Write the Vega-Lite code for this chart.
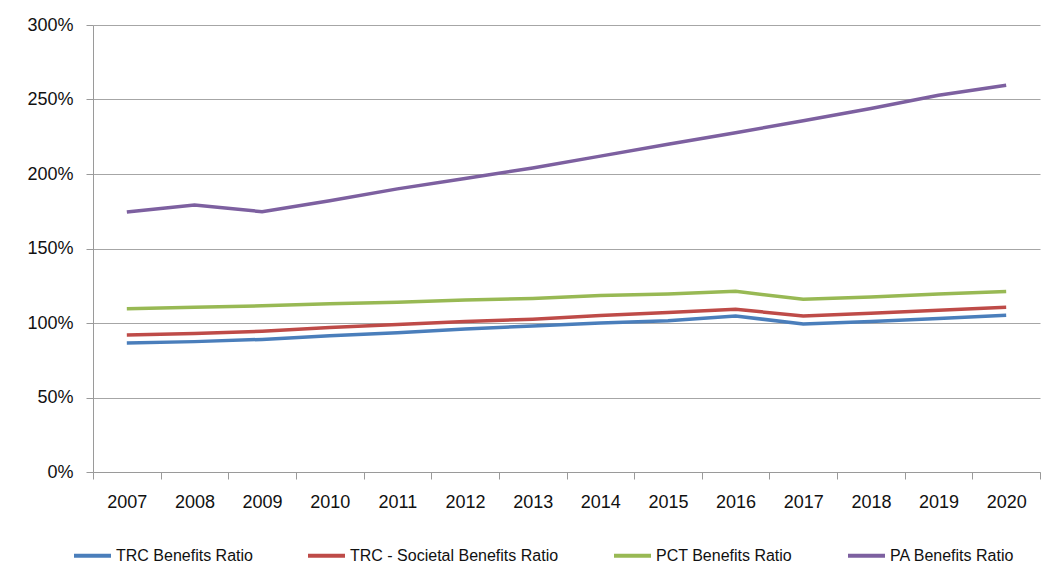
{
  "$schema": "https://vega.github.io/schema/vega-lite/v6.json",
  "width": 947,
  "height": 447,
  "autosize": {"type": "none"},
  "padding": {"left": 93, "top": 25, "right": 9, "bottom": 105},
  "background": "white",
  "config": {
    "view": {"stroke": null},
    "font": "Liberation Sans"
  },
  "data": {
    "values": [
      {"year": "2007", "series": "TRC Benefits Ratio", "value": 0.866},
      {"year": "2008", "series": "TRC Benefits Ratio", "value": 0.875},
      {"year": "2009", "series": "TRC Benefits Ratio", "value": 0.89},
      {"year": "2010", "series": "TRC Benefits Ratio", "value": 0.915},
      {"year": "2011", "series": "TRC Benefits Ratio", "value": 0.935},
      {"year": "2012", "series": "TRC Benefits Ratio", "value": 0.96},
      {"year": "2013", "series": "TRC Benefits Ratio", "value": 0.98},
      {"year": "2014", "series": "TRC Benefits Ratio", "value": 1.0},
      {"year": "2015", "series": "TRC Benefits Ratio", "value": 1.015},
      {"year": "2016", "series": "TRC Benefits Ratio", "value": 1.047},
      {"year": "2017", "series": "TRC Benefits Ratio", "value": 0.993},
      {"year": "2018", "series": "TRC Benefits Ratio", "value": 1.01},
      {"year": "2019", "series": "TRC Benefits Ratio", "value": 1.03},
      {"year": "2020", "series": "TRC Benefits Ratio", "value": 1.052},
      {"year": "2007", "series": "TRC - Societal Benefits Ratio", "value": 0.92},
      {"year": "2008", "series": "TRC - Societal Benefits Ratio", "value": 0.93},
      {"year": "2009", "series": "TRC - Societal Benefits Ratio", "value": 0.945},
      {"year": "2010", "series": "TRC - Societal Benefits Ratio", "value": 0.97},
      {"year": "2011", "series": "TRC - Societal Benefits Ratio", "value": 0.99},
      {"year": "2012", "series": "TRC - Societal Benefits Ratio", "value": 1.01},
      {"year": "2013", "series": "TRC - Societal Benefits Ratio", "value": 1.025},
      {"year": "2014", "series": "TRC - Societal Benefits Ratio", "value": 1.05},
      {"year": "2015", "series": "TRC - Societal Benefits Ratio", "value": 1.07},
      {"year": "2016", "series": "TRC - Societal Benefits Ratio", "value": 1.092},
      {"year": "2017", "series": "TRC - Societal Benefits Ratio", "value": 1.047},
      {"year": "2018", "series": "TRC - Societal Benefits Ratio", "value": 1.065},
      {"year": "2019", "series": "TRC - Societal Benefits Ratio", "value": 1.085},
      {"year": "2020", "series": "TRC - Societal Benefits Ratio", "value": 1.105},
      {"year": "2007", "series": "PCT Benefits Ratio", "value": 1.096},
      {"year": "2008", "series": "PCT Benefits Ratio", "value": 1.105},
      {"year": "2009", "series": "PCT Benefits Ratio", "value": 1.115},
      {"year": "2010", "series": "PCT Benefits Ratio", "value": 1.13},
      {"year": "2011", "series": "PCT Benefits Ratio", "value": 1.14},
      {"year": "2012", "series": "PCT Benefits Ratio", "value": 1.155},
      {"year": "2013", "series": "PCT Benefits Ratio", "value": 1.165},
      {"year": "2014", "series": "PCT Benefits Ratio", "value": 1.185},
      {"year": "2015", "series": "PCT Benefits Ratio", "value": 1.195},
      {"year": "2016", "series": "PCT Benefits Ratio", "value": 1.213},
      {"year": "2017", "series": "PCT Benefits Ratio", "value": 1.159},
      {"year": "2018", "series": "PCT Benefits Ratio", "value": 1.175},
      {"year": "2019", "series": "PCT Benefits Ratio", "value": 1.195},
      {"year": "2020", "series": "PCT Benefits Ratio", "value": 1.212},
      {"year": "2007", "series": "PA Benefits Ratio", "value": 1.745},
      {"year": "2008", "series": "PA Benefits Ratio", "value": 1.792},
      {"year": "2009", "series": "PA Benefits Ratio", "value": 1.747},
      {"year": "2010", "series": "PA Benefits Ratio", "value": 1.82},
      {"year": "2011", "series": "PA Benefits Ratio", "value": 1.9},
      {"year": "2012", "series": "PA Benefits Ratio", "value": 1.97},
      {"year": "2013", "series": "PA Benefits Ratio", "value": 2.04},
      {"year": "2014", "series": "PA Benefits Ratio", "value": 2.12},
      {"year": "2015", "series": "PA Benefits Ratio", "value": 2.2},
      {"year": "2016", "series": "PA Benefits Ratio", "value": 2.277},
      {"year": "2017", "series": "PA Benefits Ratio", "value": 2.358},
      {"year": "2018", "series": "PA Benefits Ratio", "value": 2.439},
      {"year": "2019", "series": "PA Benefits Ratio", "value": 2.528},
      {"year": "2020", "series": "PA Benefits Ratio", "value": 2.595}
    ]
  },
  "mark": {"type": "line", "strokeWidth": 3.5, "interpolate": "linear"},
  "encoding": {
    "x": {
      "field": "year",
      "type": "ordinal",
      "bandPosition": 0.5,
      "scale": {"type": "band", "paddingInner": 0, "paddingOuter": 0},
      "axis": {
        "title": null,
        "labelAngle": 0,
        "labelFontSize": 18,
        "labelColor": "#111111",
        "labelPadding": 14,
        "tickBand": "extent",
        "tickSize": 7,
        "tickColor": "#9a9a9a",
        "domainColor": "#9a9a9a",
        "grid": false
      }
    },
    "y": {
      "field": "value",
      "type": "quantitative",
      "scale": {"domain": [0, 3], "nice": false},
      "axis": {
        "title": null,
        "values": [0, 0.5, 1, 1.5, 2, 2.5, 3],
        "format": ".0%",
        "labelFontSize": 18,
        "labelColor": "#111111",
        "labelPadding": 13,
        "tickSize": 7,
        "tickColor": "#9a9a9a",
        "domainColor": "#9a9a9a",
        "grid": true,
        "gridColor": "#a6a6a6",
        "gridWidth": 1.2
      }
    },
    "color": {
      "field": "series",
      "type": "nominal",
      "scale": {
        "domain": ["TRC Benefits Ratio", "TRC - Societal Benefits Ratio", "PCT Benefits Ratio", "PA Benefits Ratio"],
        "range": ["#4a7ebb", "#be4b48", "#98b954", "#7d60a0"]
      },
      "legend": {
        "title": null,
        "orient": "none",
        "direction": "horizontal",
        "legendX": -21,
        "legendY": 510,
        "padding": 0,
        "symbolType": "stroke",
        "symbolSize": 1369,
        "symbolStrokeWidth": 4,
        "labelFontSize": 16,
        "labelColor": "#111111",
        "labelOffset": 3,
        "columnPadding": 47,
        "labelLimit": 400
      }
    }
  }
}
